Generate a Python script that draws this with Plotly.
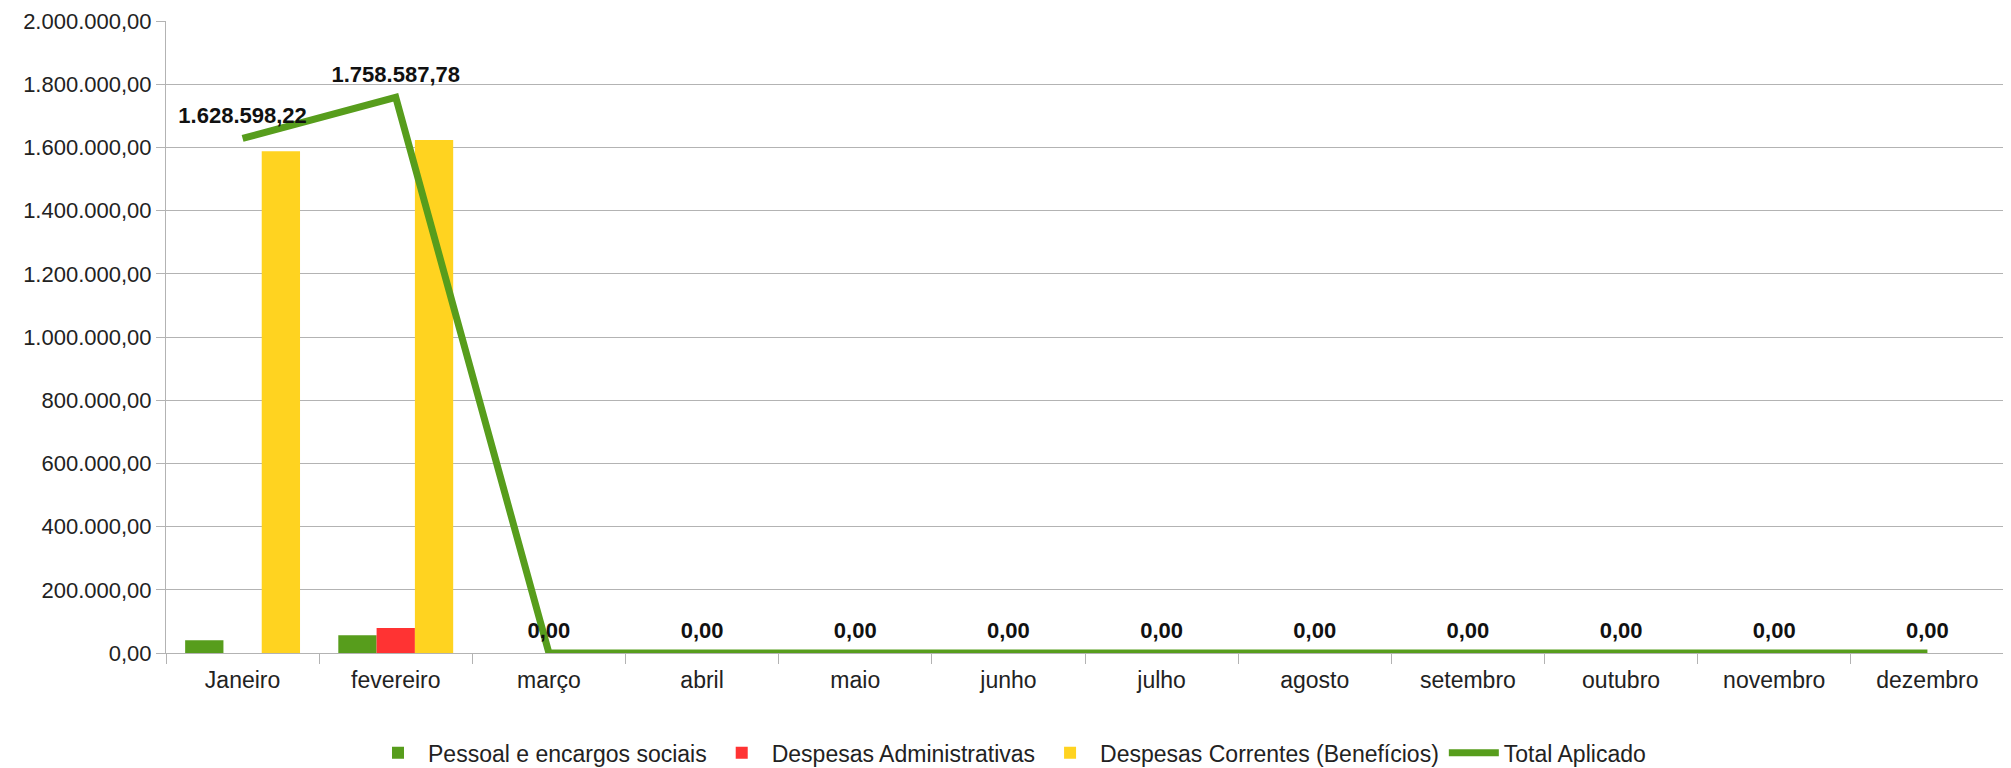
import plotly.graph_objects as go

months = ["Janeiro", "fevereiro", "março", "abril", "maio", "junho", "julho",
          "agosto", "setembro", "outubro", "novembro", "dezembro"]
pessoal = [40600.00, 56000.00, 0, 0, 0, 0, 0, 0, 0, 0, 0, 0]
administrativas = [0, 79000.00, 0, 0, 0, 0, 0, 0, 0, 0, 0, 0]
correntes = [1587998.22, 1623587.78, 0, 0, 0, 0, 0, 0, 0, 0, 0, 0]
total = [1628598.22, 1758587.78, 0, 0, 0, 0, 0, 0, 0, 0, 0, 0]
y_ticks = [0, 200000, 400000, 600000, 800000, 1000000, 1200000, 1400000,
           1600000, 1800000, 2000000]

GREEN = "#579D1C"
RED = "#FF3333"
YELLOW = "#FFD320"
GRID = "#b3b3b3"
TXT = "#222222"
FONT = "Liberation Sans, Arial, sans-serif"

fig = go.Figure()
fig.add_trace(go.Bar(x=months, y=pessoal, name="Pessoal e encargos sociais",
                     marker=dict(color=GREEN, line=dict(width=0))))
fig.add_trace(go.Bar(x=months, y=administrativas, name="Despesas Administrativas",
                     marker=dict(color=RED, line=dict(width=0))))
fig.add_trace(go.Bar(x=months, y=correntes, name="Despesas Correntes (Benefícios)",
                     marker=dict(color=YELLOW, line=dict(width=0))))
fig.add_trace(go.Scatter(x=months, y=total, name="Total Aplicado",
                         mode="lines+markers+text",
                         line=dict(color=GREEN, width=7),
                         marker=dict(size=14, color="rgba(0,0,0,0)"),
                         texttemplate="%{y:,.2f}",
                         textposition="top center",
                         textfont=dict(size=22, color="#111111", family=FONT, weight="bold"),
                         cliponaxis=False))

fig.update_layout(
    width=2003, height=760,
    separators=",.",
    paper_bgcolor="white", plot_bgcolor="white",
    font=dict(family=FONT, size=21, color=TXT),
    margin=dict(l=158, r=7, t=13, b=115, autoexpand=False),
    barmode="group", bargap=0.25, bargroupgap=0,
    showlegend=True,
    legend=dict(orientation="h", xref="container", x=0.5, xanchor="center",
                yref="container", y=0.02, yanchor="middle",
                font=dict(size=23, color=TXT),
                itemwidth=50, traceorder="normal"),
    xaxis=dict(type="category", range=[-0.5, 11.5], autorange=False,
               showline=True, linecolor=GRID, linewidth=1,
               ticks="outside", tickson="boundaries", ticklen=10, tickcolor=GRID,
               ticklabelstandoff=6,
               showgrid=False, automargin=False,
               tickfont=dict(size=23, color=TXT)),
    yaxis=dict(range=[0, 2000000], tickvals=y_ticks, tickformat=",.2f",
               showgrid=True, gridcolor=GRID, gridwidth=1,
               showline=True, linecolor=GRID, linewidth=1, mirror=True,
               ticks="outside", ticklen=9, tickcolor=GRID, automargin=False,
               zeroline=False, tickfont=dict(size=22, color=TXT)),
)

fig.write_html("out.html")
